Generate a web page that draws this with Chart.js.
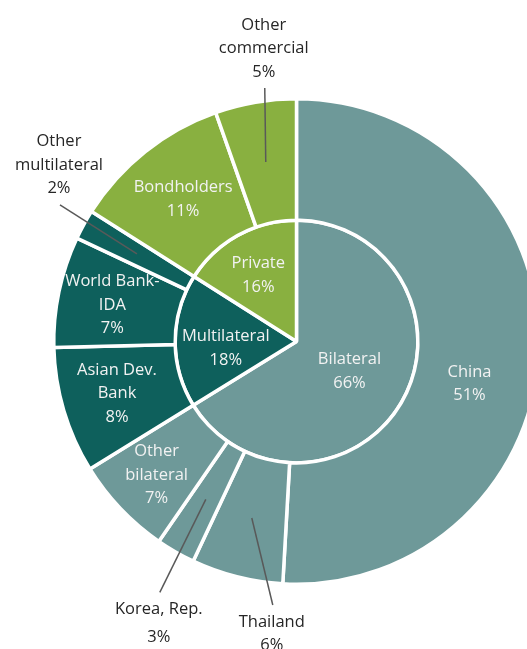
<!DOCTYPE html>
<html>
<head>
<meta charset="utf-8">
<script src="https://cdn.jsdelivr.net/npm/chart.js@4.4.1/dist/chart.umd.min.js"></script>
<style>
    body { margin: 0; background: #fff; }
    .chart-wrap { width: 527px; height: 649px; overflow: hidden; }
</style>
</head>
<body>
<div class="chart-wrap"><canvas id="debtChart" width="600" height="649"></canvas></div>
<script>
// Outer ring - individual creditors (share of debt, %)
const creditors = ['China', 'Thailand', 'Korea, Rep.', 'Other bilateral', 'Asian Dev. Bank', 'World Bank-IDA', 'Other multilateral', 'Bondholders', 'Other commercial'];
const creditorShares = [50.9, 6.1, 2.6, 6.6, 8.4, 7.4, 2.0, 10.6, 5.4];
const creditorGroup = [0, 0, 0, 0, 1, 1, 1, 2, 2];
const creditorText = ['China', 'Thailand', 'Korea, Rep.', 'Other\nbilateral', 'Asian Dev.\nBank', 'World Bank-\nIDA', 'Other\nmultilateral', 'Bondholders', 'Other\ncommercial'];

// Inner ring - creditor types
const groups = ['Bilateral', 'Multilateral', 'Private'];
const groupShares = [66.2, 17.8, 16.0];

const groupColors = ['#6E9999', '#0E605C', '#89B040'];

// small slices get their label outside with a leader line (offset of line start from slice centre)
const callouts = {
    1: { dx: 21, dy: 87 },
    2: { dx: -46, dy: 93, lineH: 28 },
    6: { dx: -77, dy: -49 },
    8: { dx: -1, dy: -74 }
};
// little nudges for labels drawn inside slices
const nudges = {
    outer: { 0: { dx: -9, dy: 37 }, 3: { dx: -8, dy: 8 }, 4: { dx: -5, dy: 0 }, 5: { dx: -6, dy: 1 } },
    inner: { 1: { dx: -10, dy: 7 }, 2: { dx: -9, dy: -13 } }
};

const FONT = '16.5px "Open Sans", sans-serif';
const LINE_H = 23.5;

function drawBlock(ctx, lines, x, yMid, color, lineH) {
    const lh = lineH || LINE_H;
    ctx.fillStyle = color;
    const top = yMid - (lines.length - 1) * lh / 2;
    lines.forEach((l, i) => ctx.fillText(l, x, top + i * lh));
}

const sliceLabels = {
    id: 'sliceLabels',
    afterDatasetsDraw(chart) {
        const ctx = chart.ctx;
        ctx.save();
        ctx.font = FONT;
        ctx.textAlign = 'center';
        ctx.textBaseline = 'middle';

        // outer ring (dataset 0)
        chart.getDatasetMeta(0).data.forEach((arc, i) => {
            const p = arc.tooltipPosition();
            const lines = creditorText[i].split('\n').concat(Math.round(creditorShares[i]) + '%');
            const c = callouts[i];
            if (c) {
                const sx = p.x + c.dx, sy = p.y + c.dy;
                ctx.strokeStyle = '#595959';
                ctx.lineWidth = 1.5;
                ctx.beginPath();
                ctx.moveTo(sx, sy);
                ctx.lineTo(p.x, p.y);
                ctx.stroke();
                const lh = c.lineH || LINE_H;
                const h = (lines.length - 1) * lh;
                const mid = c.dy < 0 ? sy - 16 - h / 2 : sy + 17 + h / 2;
                drawBlock(ctx, lines, sx - 1, mid, '#262626', lh);
            } else {
                const n = nudges.outer[i] || { dx: 0, dy: 0 };
                drawBlock(ctx, lines, p.x + n.dx, p.y + n.dy, '#F2F2F2');
            }
        });

        // inner ring (dataset 1)
        chart.getDatasetMeta(1).data.forEach((arc, i) => {
            const p = arc.tooltipPosition();
            const n = nudges.inner[i] || { dx: 0, dy: 0 };
            drawBlock(ctx, [groups[i], Math.round(groupShares[i]) + '%'], p.x + n.dx, p.y + n.dy, '#F2F2F2');
        });
        ctx.restore();
    }
};

document.addEventListener('DOMContentLoaded', function () {
    const ctx = document.getElementById('debtChart').getContext('2d');
    new Chart(ctx, {
        type: 'doughnut',
        data: {
            labels: creditors,
            datasets: [
                {
                    label: 'Creditors',
                    data: creditorShares,
                    backgroundColor: creditorGroup.map(g => groupColors[g]),
                    borderColor: '#ffffff',
                    borderWidth: 3.5
                },
                {
                    label: 'Creditor type',
                    data: groupShares,
                    backgroundColor: groupColors,
                    borderColor: '#ffffff',
                    borderWidth: 3.5
                }
            ]
        },
        options: {
            responsive: false,
            animation: false,
            devicePixelRatio: 1,
            cutout: 0,
            layout: {
                padding: { left: 52, top: 97, right: 59, bottom: 63 }
            },
            plugins: {
                legend: { display: false },
                tooltip: { enabled: false }
            },
            events: []
        },
        plugins: [sliceLabels]
    });
});
</script>
</body>
</html>
